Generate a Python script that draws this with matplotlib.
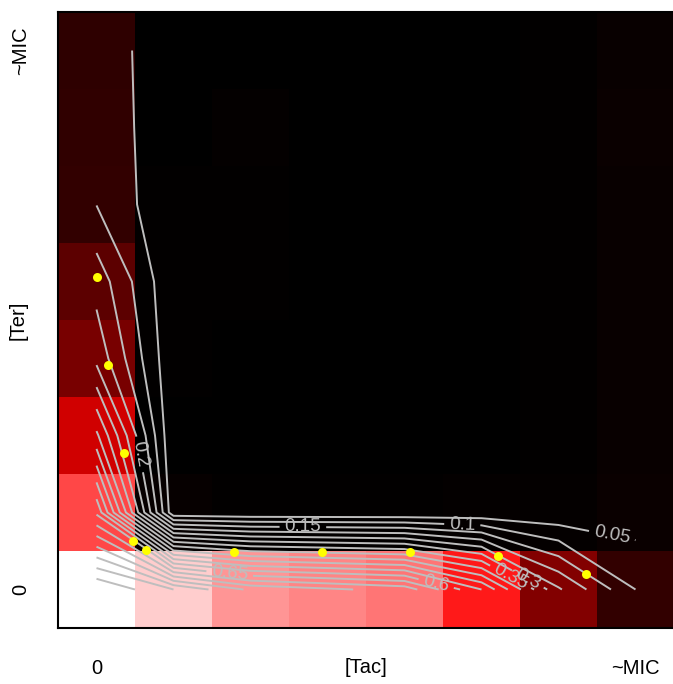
import numpy as np
import matplotlib
matplotlib.use("Agg")
import matplotlib.pyplot as plt
from matplotlib.colors import LinearSegmentedColormap

plt.rcParams['font.family'] = ['Liberation Sans', 'DejaVu Sans']

# growth fraction on an 8x8 checkerboard, rows = [Ter] (bottom -> top), cols = [Tac]
row0 = [1.00, 0.90, 0.79, 0.76, 0.73, 0.55, 0.257, 0.10]
row1 = [0.64, 0.012, 0.006, 0.006, 0.006, 0.010, 0.010, 0.022]
row2 = [0.41, 0.002, 0.003, 0.0, 0.0, 0.002, 0.004, 0.018]
row3 = [0.235, 0.007, 0.003, 0.0, 0.0, 0.003, 0.004, 0.018]
row4 = [0.18, 0.006, 0.004, 0.0, 0.0, 0.003, 0.005, 0.018]
row5 = [0.099, 0.006, 0.004, 0.002, 0.0, 0.002, 0.005, 0.018]
row6 = [0.095, 0.003, 0.010, 0.002, 0.0, 0.003, 0.005, 0.020]
row7 = [0.093, 0.0, 0.003, 0.0, 0.0, 0.002, 0.005, 0.018]
growth = np.array([row0, row1, row2, row3, row4, row5, row6, row7])

# estimated isobole points (in well units)
pts_x = [0.006, 0.153, 0.361, 0.474, 0.639, 1.786, 2.929, 4.071, 5.210, 6.353]
pts_y = [4.062, 2.916, 1.777, 0.630, 0.513, 0.491, 0.491, 0.491, 0.435, 0.201]

levels = np.round(np.arange(0.05, 1.0, 0.05), 2)
# where the contour labels sit
label_pos = {0.05: (6.69, 0.68), 0.1: (4.75, 0.84), 0.15: (2.68, 0.80),
             0.2: (0.54, 1.75), 0.65: (1.73, 0.21), 0.6: (4.40, 0.03),
             0.35: (5.37, 0.15), 0.3: (5.56, 0.06)}

cmap = LinearSegmentedColormap.from_list('brw', ['black', 'red', 'white'])

fig = plt.figure(figsize=(6.73, 6.84), dpi=100)
ax = fig.add_axes([58 / 673, 56 / 684, 616 / 673, 616 / 684])

n = growth.shape[0]
ax.imshow(growth, cmap=cmap, vmin=0, vmax=1, origin='lower',
          extent=(-0.5, n - 0.5, -0.5, n - 0.5), aspect='auto',
          interpolation='nearest')

xs = np.arange(n)
plain = [lv for lv in levels if lv not in label_pos]
ax.contour(xs, xs, growth, levels=plain, colors='#bebebe', linewidths=1.4)
for lv, pos in label_pos.items():
    cs = ax.contour(xs, xs, growth, levels=[lv], colors='#bebebe', linewidths=1.4)
    ax.clabel(cs, manual=[pos], inline=True, fontsize=13.5, fmt='%g',
              colors='#bebebe')

ax.scatter(pts_x, pts_y, s=42, color='yellow', zorder=5, linewidths=0)

ax.set_xlim(-0.5, n - 0.5)
ax.set_ylim(-0.5, n - 0.5)
ax.set_xticks([0, n - 1], ['0', '~MIC'])
ax.set_yticks([0, n - 1], ['0', '~MIC'])
for lab in ax.get_yticklabels():
    lab.set_rotation(90)
    lab.set_va('center')
ax.tick_params(length=0, labelsize=14.5)
ax.tick_params(axis='x', pad=22)
ax.tick_params(axis='y', pad=20)
ax.set_xlabel('[Tac]', fontsize=14.5)
ax.set_ylabel('[Ter]', fontsize=14.5)
ax.xaxis.set_label_coords(0.5, -0.049)
ax.yaxis.set_label_coords(-0.050, 0.5)
for sp in ax.spines.values():
    sp.set_linewidth(1.5)

fig.savefig('out.png', dpi=100)
